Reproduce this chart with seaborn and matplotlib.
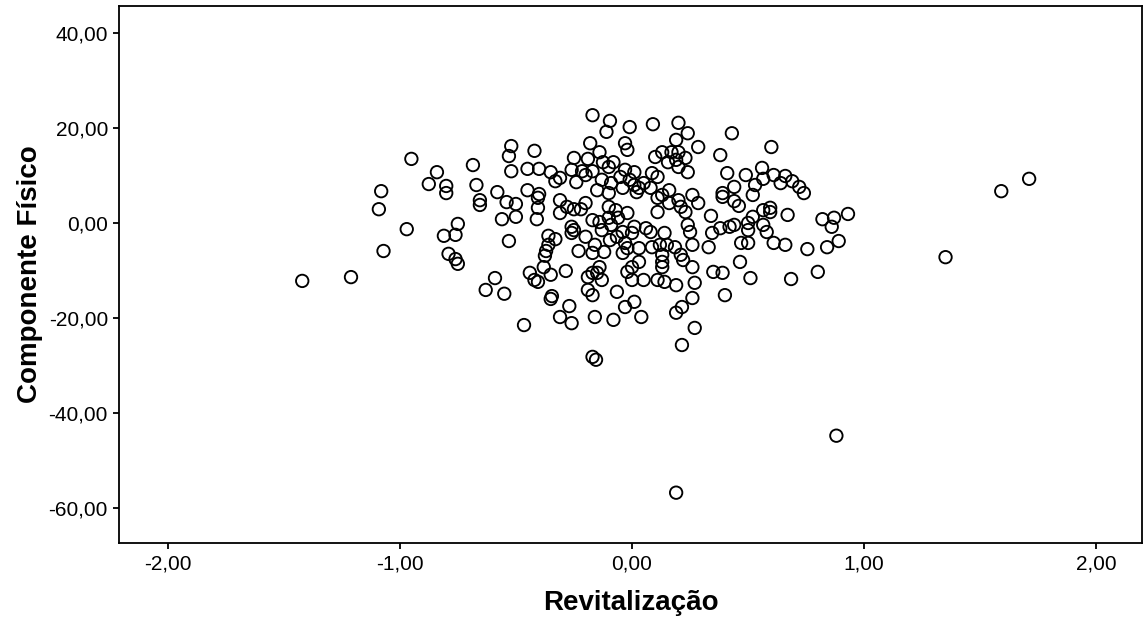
import matplotlib
matplotlib.use("Agg")
import matplotlib.pyplot as plt
import seaborn as sns
import pandas as pd
from matplotlib.ticker import FuncFormatter

# Revitalização (x) and Componente Físico (y)
revitalizacao = [
    -1.42, -1.21, -1.09, -1.08, -1.07, -0.97, -0.95, -0.875, -0.84, -0.80, -0.80, -0.81, -0.76, -0.75, -0.79, -0.76, -0.75,
    -0.17, -0.18, -0.52, -0.53, -0.42, -0.685, -0.25, -0.19, -0.52, -0.45, -0.40, -0.35, -0.26, -0.215, -0.17, -0.31, -0.33,
    -0.24, -0.20, -0.67, -0.58, -0.45, -0.40, -0.405, -0.655, -0.655, -0.54, -0.50, -0.31, -0.28, -0.25, -0.22, -0.20, -0.405,
    -0.56, -0.50, -0.41, -0.31, -0.26, -0.25, -0.17,
    -0.53, -0.36, -0.33, -0.36, -0.37, -0.375, -0.26, -0.20, -0.16, -0.23, -0.17, -0.38, -0.44, -0.42, -0.405, -0.35, -0.285,
    -0.59, -0.63, -0.55, -0.345, -0.35, -0.27, -0.31, -0.26, -0.465, -0.16, -0.17, -0.155, -0.19, -0.17, -0.19, -0.17,
    -0.095, -0.11, -0.01, 0.09, 0.20, 0.24, 0.19, 0.43, -0.03, -0.02, 0.285, 0.38, 0.10, 0.13, 0.17, 0.20, 0.155, 0.19, 0.20,
    0.24, 0.23, -0.14, -0.125, -0.08, -0.10, 0.086, 0.11, 0.41, 0.44, 0.39, 0.39, 0.44, 0.46, -0.03, 0.01, -0.05, -0.01, 0.01,
    0.03, 0.02, 0.05, 0.08, -0.13, -0.09, -0.15, -0.10, -0.04, 0.16, 0.13, 0.11, 0.20, 0.26, 0.285, 0.16, 0.21, 0.23, 0.11,
    0.34, 0.38, 0.42, 0.345, 0.24, 0.25, 0.14, 0.06, 0.08, 0.01, -0.02, -0.07, -0.10, -0.06, -0.10, -0.14, -0.09, -0.13, -0.04,
    0.0, -0.065,
    -0.095, -0.03, -0.02, -0.04, -0.12, -0.14, -0.15, -0.13, 0.03, 0.086, 0.12, 0.15, 0.185, 0.13, 0.13, 0.13, 0.21, 0.22,
    0.26, 0.26, 0.33, 0.03, 0.0, -0.02, 0.0, 0.05, 0.11, 0.14, 0.19, 0.27, 0.35, 0.39, 0.40, 0.26, 0.215, 0.19, 0.01, -0.03,
    -0.065, 0.04, -0.08, 0.27, 0.215, 0.19,
    0.60, 0.56, 0.49, 0.61, 0.66, 0.565, 0.64, 0.69, 0.72, 0.74, 0.53, 0.52, 0.565, 0.595, 0.595, 0.52, 0.67, 0.82, 0.87,
    0.86, 0.93, 0.50, 0.50, 0.565, 0.58, 0.44,
    0.47, 0.50, 0.61, 0.66, 0.755, 0.84, 0.89, 0.465, 0.51, 0.685, 0.80, 1.35,
    1.59, 1.71, 0.88,
]

componente_fisico = [
    -12.2, -11.4, 2.9, 6.7, -5.9, -1.3, 13.5, 8.2, 10.7, 6.3, 7.8, -2.7, -2.5, -0.2, -6.5, -7.6, -8.6,
    22.7, 16.8, 16.2, 14.1, 15.2, 12.2, 13.7, 13.5, 10.9, 11.4, 11.4, 10.7, 11.2, 10.9, 10.9, 9.5, 8.8,
    8.6, 10.1, 8.0, 6.5, 6.9, 6.1, 5.3, 4.8, 3.8, 4.4, 4.0, 4.8, 3.4, 2.9, 2.9, 4.2, 3.2,
    0.8, 1.3, 0.8, 2.1, -0.8, -1.5, 0.6,
    -3.8, -2.7, -3.4, -4.6, -5.9, -6.9, -2.1, -2.9, -4.6, -5.9, -6.3, -9.3, -10.5, -12.0, -12.4, -10.9, -10.1,
    -11.6, -14.1, -14.9, -15.4, -16.0, -17.5, -19.8, -21.1, -21.5, -19.8, -28.2, -28.8, -11.4, -10.5, -14.1, -15.2,
    21.5, 19.2, 20.2, 20.8, 21.1, 18.9, 17.5, 18.9, 16.8, 15.4, 16.0, 14.3, 13.9, 14.9, 14.9, 14.9, 12.8, 13.3, 11.8,
    10.7, 13.7, 14.9, 12.8, 12.8, 11.8, 10.5, 9.7, 10.5, 7.6, 6.3, 5.5, 4.6, 3.6, 11.2, 10.7, 9.7, 9.1, 8.0,
    7.4, 6.5, 8.4, 7.4, 9.1, 8.4, 6.9, 6.3, 7.4, 6.9, 5.9, 5.3, 4.8, 5.9, 4.2, 4.2, 3.4, 2.3, 2.3,
    1.5, -1.1, -0.8, -2.1, -0.4, -1.9, -2.1, -1.1, -1.9, -0.8, 2.1, 2.7, 3.4, 1.1, 1.1, 0.2, -0.4, -1.5, -1.9,
    -2.1, -2.9,
    -3.6, -4.2, -5.3, -6.3, -6.1, -9.3, -10.5, -12.0, -5.3, -5.1, -4.6, -4.6, -5.1, -6.7, -8.2, -9.3, -6.7, -7.8,
    -9.3, -4.6, -5.1, -8.2, -9.3, -10.3, -12.0, -12.0, -12.0, -12.4, -13.1, -12.6, -10.3, -10.5, -15.2, -15.8, -17.7, -18.9, -16.6, -17.7,
    -14.5, -19.8, -20.4, -22.1, -25.7, -56.8,
    16.0, 11.6, 10.1, 10.1, 9.9, 9.3, 8.4, 8.8, 7.6, 6.3, 8.0, 5.9, 2.7, 3.2, 2.3, 1.3, 1.7, 0.8, 1.1,
    -0.8, 1.9, 0.0, -1.5, -0.4, -1.9, -0.4,
    -4.2, -4.2, -4.2, -4.6, -5.5, -5.1, -3.8, -8.2, -11.6, -11.8, -10.3, -7.2,
    6.7, 9.3, -44.8,
]

x_ticks = [-2, -1, 0, 1, 2]
y_ticks = [-60, -40, -20, 0, 20, 40]
x_label = "Revitalização"
y_label = "Componente Físico"

df = pd.DataFrame({x_label: revitalizacao, y_label: componente_fisico})

sns.set_style("white")
plt.rcParams["font.family"] = ["Liberation Sans", "DejaVu Sans"]
plt.rcParams["text.color"] = "black"
plt.rcParams["axes.labelcolor"] = "black"

fig = plt.figure(figsize=(11.44, 6.2), dpi=100)
ax = fig.add_axes([119 / 1144, 77 / 620, (1142 - 119) / 1144, (543 - 6) / 620])

sns.scatterplot(data=df, x=x_label, y=y_label, ax=ax, s=80,
                facecolor="none", edgecolor="black", linewidth=1.35, marker="o")
for coll in ax.collections:
    coll.set_facecolor("none")
    coll.set_edgecolor("black")

ax.set_xlim(-2.209, 2.196)
ax.set_ylim(-67.4, 45.7)
ax.set_xticks(x_ticks)
ax.set_yticks(y_ticks)
fmt = FuncFormatter(lambda v, p: f"{v:.2f}".replace(".", ","))
ax.xaxis.set_major_formatter(fmt)
ax.yaxis.set_major_formatter(fmt)

ax.tick_params(axis="both", which="major", direction="out", length=4, width=1.3,
               color="black", labelsize=15, labelcolor="black", pad=4)
ax.tick_params(bottom=True, left=True, top=False, right=False)
for sp in ax.spines.values():
    sp.set_visible(True)
    sp.set_color("black")
    sp.set_linewidth(1.3)

ax.set_xlabel(x_label, fontsize=20, fontweight="bold", labelpad=12, color="black")
ax.set_ylabel(y_label, fontsize=20, fontweight="bold", labelpad=4, color="black")

fig.savefig("out.png", dpi=100, facecolor="white")
